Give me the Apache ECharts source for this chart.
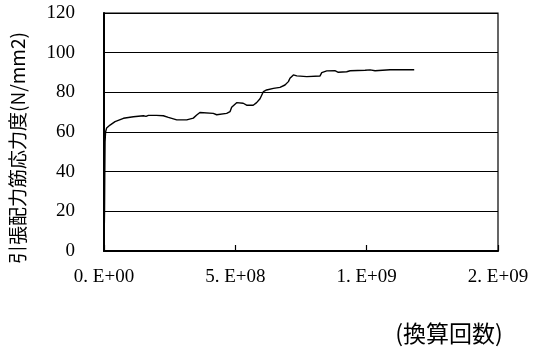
<!DOCTYPE html>
<html>
<head>
<meta charset="utf-8">
<script src="https://cdn.jsdelivr.net/npm/echarts@6/dist/echarts.min.js"></script>
<style>
  html, body { margin: 0; padding: 0; background: #fff; }
  #chart { width: 539px; height: 356px; }
</style>
</head>
<body>
<div id="chart"></div>
<script>
// Converted load cycles (x) and tensile stress of distribution bars (y, N/mm2)
const cycles = [
  0, 2e6, 3e6, 4e6, 6e6, 1.0e7, 2.3e7, 4.2e7, 7.4e7, 1.12e8,
  1.50e8, 1.60e8, 1.69e8, 2.00e8, 2.26e8, 2.45e8, 2.77e8, 3.15e8, 3.40e8, 3.53e8,
  3.65e8, 4.16e8, 4.29e8, 4.67e8, 4.80e8, 4.86e8, 5.05e8, 5.30e8, 5.43e8, 5.68e8,
  5.81e8, 5.94e8, 6.00e8, 6.07e8, 6.19e8, 6.45e8, 6.70e8, 6.89e8, 7.02e8, 7.08e8,
  7.21e8, 7.34e8, 7.72e8, 8.22e8, 8.29e8, 8.48e8, 8.79e8, 8.92e8, 9.24e8, 9.37e8,
  9.94e8, 1.000e9, 1.013e9, 1.032e9, 1.038e9, 1.089e9, 1.181e9
];
const stress = [
  3, 20, 40, 55, 60, 62, 63.5, 65.2, 66.9, 67.7,
  68.2, 67.9, 68.4, 68.4, 68.2, 67.4, 66.1, 66.1, 67.0, 68.6,
  69.8, 69.4, 68.7, 69.4, 70.3, 72.5, 74.8, 74.5, 73.5, 73.5,
  74.8, 76.8, 77.8, 80.4, 81.2, 82.0, 82.5, 83.7, 85.4, 87.1,
  88.8, 88.3, 87.9, 88.2, 89.9, 90.8, 90.9, 90.1, 90.4, 90.9,
  91.1, 91.6, 91.3, 90.9, 91.4, 91.4, 91.4
];
const yTitle = '引張配力筋応力度(N/mm2)';
const xTitle = '(換算回数)';

// Excel-style "0.E+00" number format
function sciLabel(v) {
  if (v === 0) return '0. E+00';
  const e = Math.floor(Math.log10(v));
  let m = Math.round(v / Math.pow(10, e));
  let ex = e;
  if (m >= 10) { m = 1; ex += 1; }
  return m + '. E+' + String(ex).padStart(2, '0');
}

const points = cycles.map((c, i) => [c, stress[i]]);
const serif = '"Liberation Serif", "DejaVu Serif", serif';
const cjk = '"Noto Sans CJK JP", sans-serif';

const chart = echarts.init(document.getElementById('chart'));
chart.setOption({
  animation: false,
  backgroundColor: '#fff',
  grid: {
    left: 104, right: 41, top: 13, bottom: 105,
    show: true, borderColor: '#000', borderWidth: 1.2
  },
  xAxis: {
    type: 'value', min: 0, max: 1.5e9, interval: 5e8,
    axisLine: { lineStyle: { color: '#000', width: 2 } },
    axisTick: { inside: true, length: 6, lineStyle: { color: '#000', width: 1.2 } },
    splitLine: { show: false },
    axisLabel: {
      margin: 17, color: '#000', fontFamily: serif, fontSize: 19,
      formatter: sciLabel
    }
  },
  yAxis: {
    type: 'value', min: 0, max: 120, interval: 20,
    axisLine: { show: true, lineStyle: { color: '#000', width: 2 } },
    axisTick: { show: true, inside: true, length: 4, lineStyle: { color: '#000' } },
    splitLine: { lineStyle: { color: '#000', width: 1 } },
    axisLabel: { margin: 29, color: '#000', fontFamily: serif, fontSize: 19 }
  },
  graphic: [
    {
      type: 'text', x: 18, y: 148, rotation: Math.PI / 2,
      style: {
        text: yTitle, fill: '#000', font: '19px ' + cjk,
        align: 'center', verticalAlign: 'middle'
      }
    },
    {
      type: 'text', x: 449, y: 333,
      style: {
        text: xTitle, fill: '#000', font: '23px ' + cjk,
        align: 'center', verticalAlign: 'middle'
      }
    }
  ],
  series: [{
    type: 'line', data: points, showSymbol: false,
    lineStyle: { color: '#000', width: 1.4 },
    z: 5
  }]
});
</script>
</body>
</html>
